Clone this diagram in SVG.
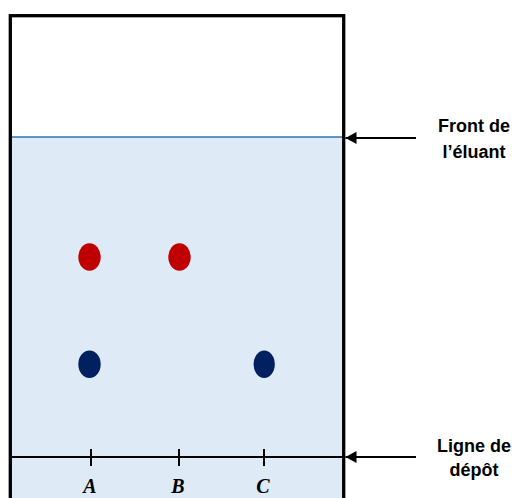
<svg xmlns="http://www.w3.org/2000/svg" width="512" height="498" viewBox="0 0 512 498">
  <defs>
    <marker id="ah" markerWidth="12" markerHeight="12" refX="11" refY="6" orient="auto" markerUnits="userSpaceOnUse">
      <path d="M0,0 L11,6 L0,12 Z" fill="#000"/>
    </marker>
    <style>
      .lbl { font-family: "Liberation Sans", Arial, sans-serif; font-weight: bold; font-size: 18px; fill: #000; text-anchor: middle; }
      .let { font-family: "Liberation Serif", "Times New Roman", serif; font-weight: bold; font-style: italic; font-size: 20px; fill: #000; text-anchor: middle; }
      .tick { stroke: #000; stroke-width: 2; }
      .arrow { stroke: #000; stroke-width: 2; fill: none; marker-end: url(#ah); }
    </style>
  </defs>
  <rect width="512" height="498" fill="#fff"/>
  <g id="plate">
    <rect x="10.3" y="137" width="333.4" height="370" fill="#deebf7"/>
    <line x1="10" y1="137" x2="344" y2="137" stroke="#2e75b6" stroke-width="1.5"/>
    <line x1="10" y1="457" x2="344" y2="457" stroke="#000" stroke-width="2"/>
    <rect x="10.3" y="15.7" width="333.4" height="500" fill="none" stroke="#000" stroke-width="3.3"/>
  </g>
  <g id="ticks">
    <line class="tick" x1="91" y1="449" x2="91" y2="466"/>
    <line class="tick" x1="179" y1="449" x2="179" y2="466"/>
    <line class="tick" x1="264" y1="449" x2="264" y2="466"/>
  </g>
  <g id="spots">
    <ellipse cx="89.5" cy="257" rx="11.2" ry="13.7" fill="#c00000"/>
    <ellipse cx="179.5" cy="257" rx="11.2" ry="13.7" fill="#c00000"/>
    <ellipse cx="89.5" cy="364.3" rx="11.2" ry="13.7" fill="#002060"/>
    <ellipse cx="264.2" cy="364.3" rx="10.6" ry="13.7" fill="#002060"/>
  </g>
  <g id="letters">
    <text class="let" x="90" y="493">A</text>
    <text class="let" x="178" y="493">B</text>
    <text class="let" x="263" y="493">C</text>
  </g>
  <g id="connectors">
    <line class="arrow" x1="416" y1="138" x2="345.5" y2="138"/>
    <line class="arrow" x1="416" y1="457" x2="345.5" y2="457"/>
  </g>
  <g id="label-front">
    <text class="lbl" x="474" y="132">Front de</text>
    <text class="lbl" x="474" y="158">l’éluant</text>
  </g>
  <g id="label-depot">
    <text class="lbl" x="474" y="452">Ligne de</text>
    <text class="lbl" x="474" y="476">dépôt</text>
  </g>
</svg>
